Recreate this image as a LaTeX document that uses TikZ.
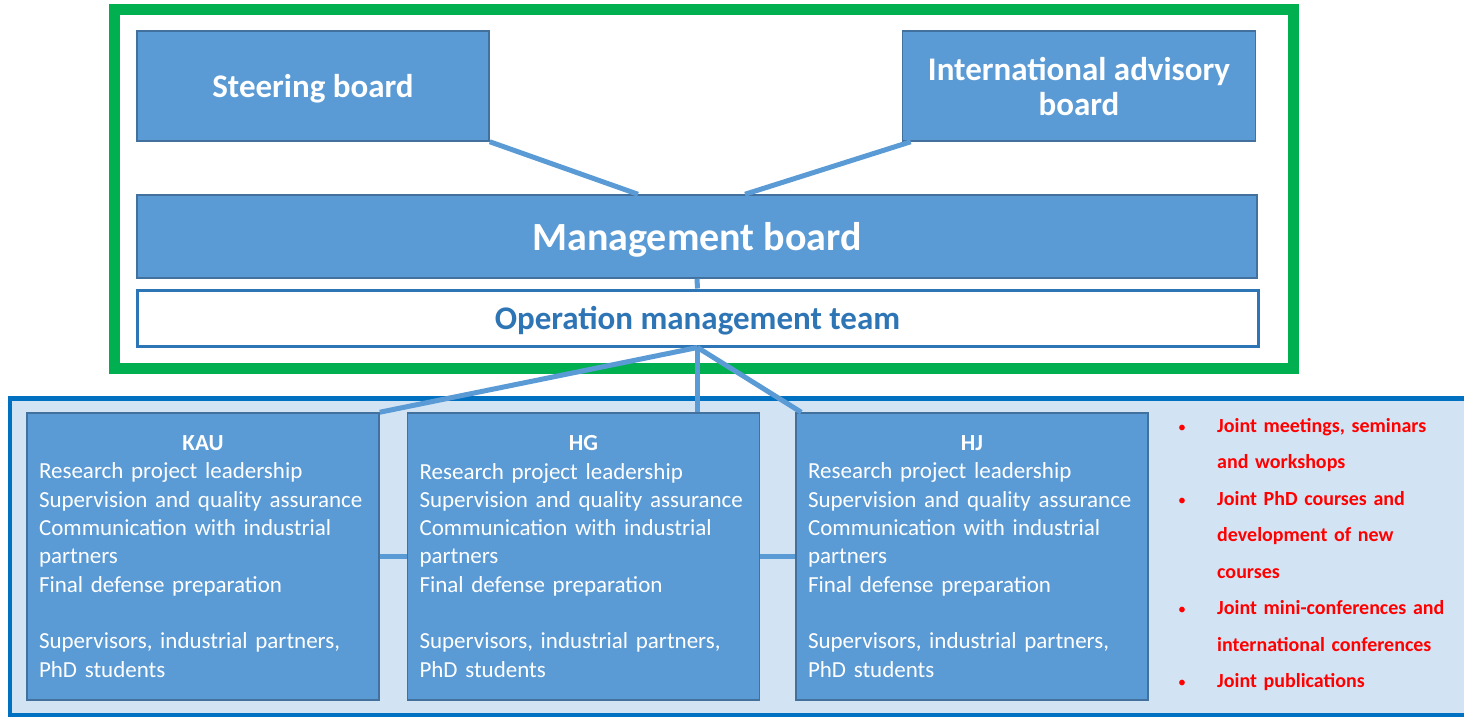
\documentclass[tikz,border=0pt]{standalone}
\usepackage{fontspec}
\setmainfont{Carlito}
\usetikzlibrary{positioning}
\definecolor{mboxblue}{HTML}{5B9BD5}
\definecolor{mborder}{HTML}{41719C}
\definecolor{mgreen}{HTML}{00B050}
\definecolor{mframe}{HTML}{0070C0}
\definecolor{mpale}{HTML}{D2E4F4}
\definecolor{mteam}{HTML}{2E75B6}
\tikzstyle{board} = [rectangle, draw=mborder, line width=1.5pt, fill=mboxblue, text=white, align=center, text depth=0pt, font=\bfseries\fontsize{33}{35}\selectfont]
\tikzstyle{team} = [rectangle, draw=mteam, line width=3pt, fill=white, text=mteam, text depth=0pt, font=\bfseries\fontsize{33}{35}\selectfont]
\tikzstyle{partner} = [rectangle, draw=mborder, line width=1.5pt, fill=mboxblue, text=white, minimum height=287pt, text width=328pt, inner xsep=12pt, align=left, font=\fontsize{23}{28.3}\selectfont]
\tikzstyle{link} = [line width=5pt, draw=mboxblue]
\newcommand{\partnertext}[1]{\makebox[\hsize]{\bfseries #1}\\ Research project leadership\\ Supervision and quality assurance\\ Communication with industrial\\ partners\\ Final defense preparation\\[28.3pt] Supervisors, industrial partners,\\ PhD students}
\newcommand{\jointitem}{\leavevmode\llap{\normalfont\fontsize{16}{16}\selectfont\textbullet\hspace{31pt}}}

\begin{document}
\begin{tikzpicture}[x=1pt, y=-1pt]
  \useasboundingbox (0,0) rectangle (1464,717);
  % frames
  \node (mgmtframe) [draw=mgreen, line width=11pt, minimum width=1179pt, minimum height=358pt, inner sep=0pt] at (703.5,189) {};
  \node (uniframe) [draw=mframe, line width=4.5pt, fill=mpale, minimum width=1460pt, minimum height=317pt, inner sep=0pt] at (740,557) {};
  % boards
  \node (steer) [board, minimum width=352pt, minimum height=110pt] at (313,86) {Steering board};
  \node (iab) [board, minimum width=353pt, minimum height=110pt, right=412pt of steer] {International advisory\\board};
  \node (mgmt) [board, minimum width=1120pt, minimum height=83pt, font=\bfseries\fontsize{40}{42}\selectfont] at (697,236.5) {Management board};
  \node (omt) [team, minimum width=1121pt, minimum height=56pt] at (697.5,318) {Operation management team};
  % partners
  \node (kau) [partner] at (203,556.5) {\partnertext{KAU}};
  \node (hg) [partner, right=27pt of kau] {\partnertext{HG}};
  \node (hj) [partner, right=35pt of hg] {\partnertext{HJ}};
  \node (joint) [anchor=north west, inner sep=0pt, text width=240pt, align=left, text=red, font=\bfseries\fontsize{20}{36.5}\selectfont] at (1217,418) {%
    \jointitem Joint meetings, seminars\\ and workshops\\
    \jointitem Joint PhD courses and\\ development of new\\ courses\\
    \jointitem Joint mini-conferences and\\ international conferences\\
    \jointitem Joint publications};
  % links
  \draw [link] (steer.south east) -- ([xshift=-59pt]mgmt.north);
  \draw [link] ([xshift=9pt]iab.south west) -- ([xshift=48pt]mgmt.north);
  \draw [link] (mgmt.south) -- (omt.north);
  \draw [link] (omt.south) -- (kau.north east);
  \draw [link] (omt.south) -- (omt.south |- hg.north);
  \draw [link] (omt.south) -- ([xshift=6pt]hj.north west);
  \draw [link] (kau.east) -- (hg.west);
  \draw [link] (hg.east) -- (hj.west);
\end{tikzpicture}
\end{document}
